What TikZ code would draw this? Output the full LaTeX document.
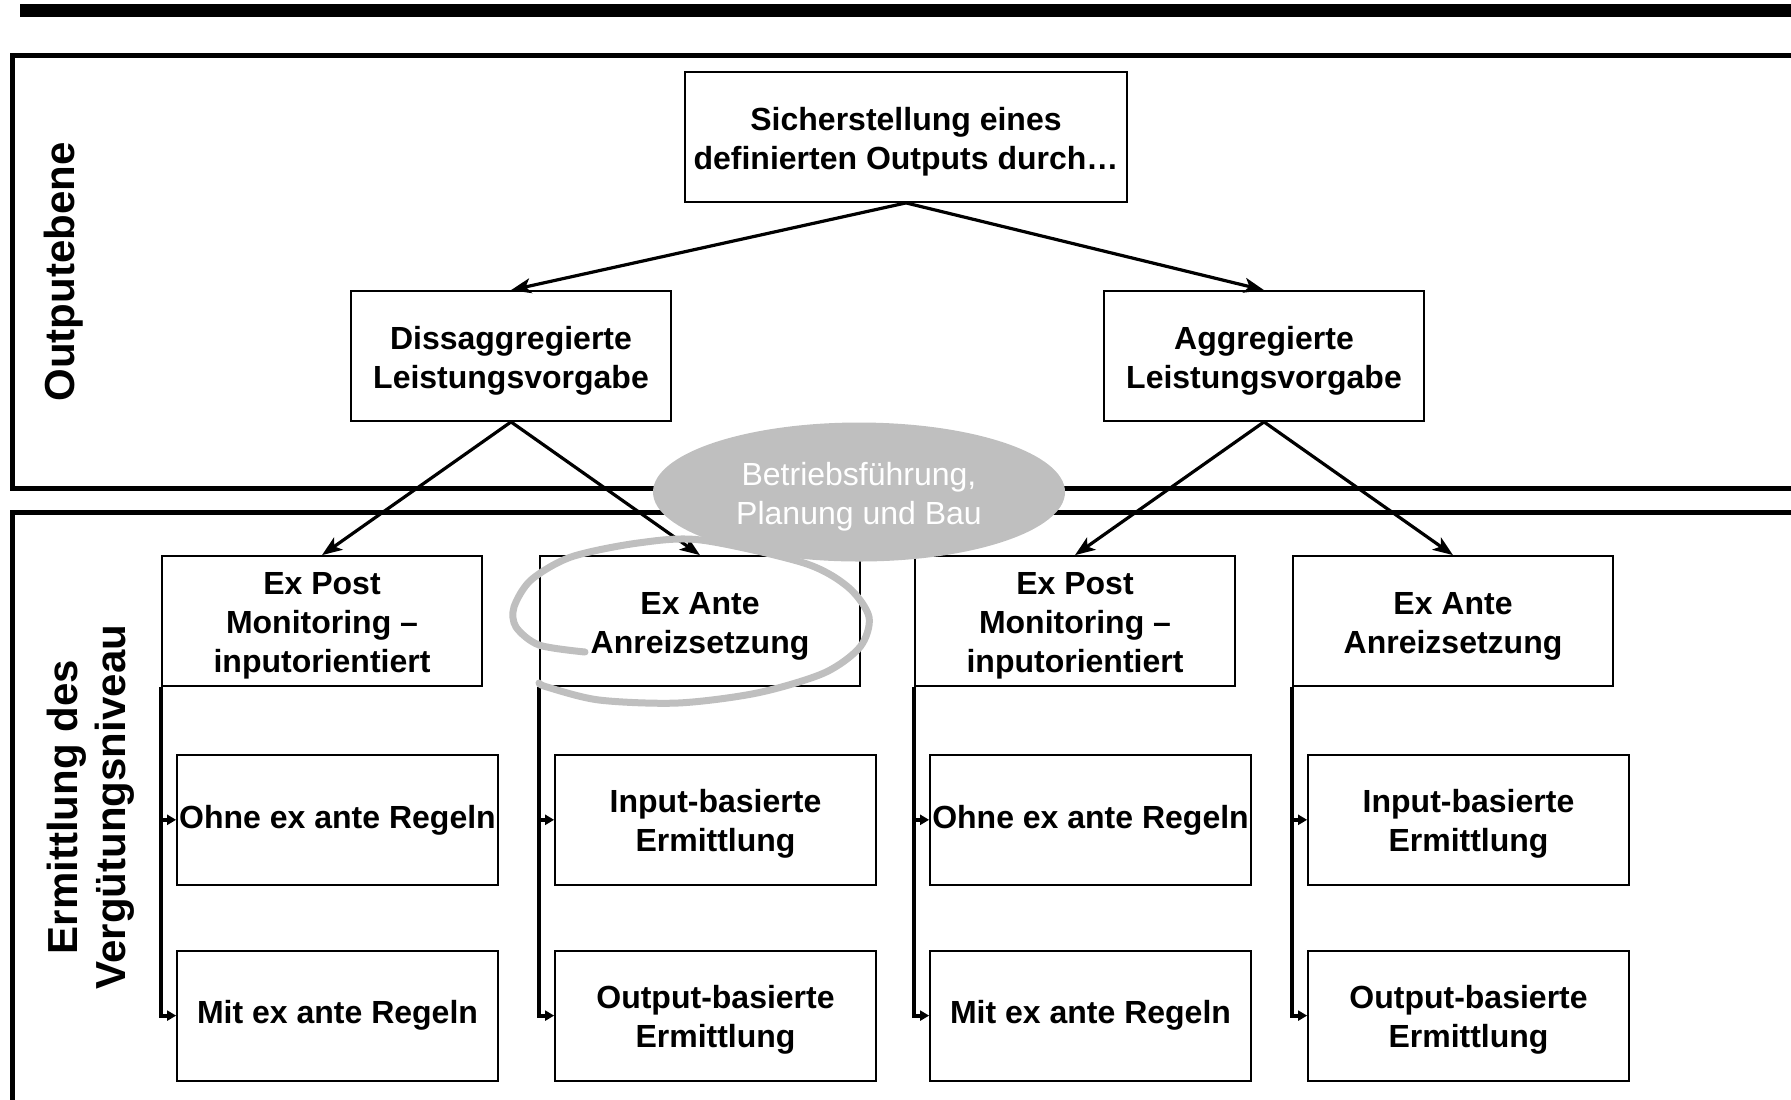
\documentclass[tikz,border=0pt]{standalone}
\usepackage{fontspec}
\setmainfont{Liberation Sans}
\usetikzlibrary{positioning,arrows.meta,shapes.geometric}
\newcommand{\hoch}{\rule{0pt}{16pt}}
\tikzset{
  kasten/.style = {shape=rectangle, draw, line width=0.9pt, align=center,
                   inner sep=1pt, minimum height=65pt,
                   font=\bfseries\fontsize{16}{19.5}\selectfont},
  spitze/.style = {kasten, minimum width=221pt},
  ebene/.style  = {kasten, minimum width=160pt},
  art/.style    = {kasten, minimum width=160pt},
  wahl/.style   = {kasten, minimum width=160.5pt},
  rahmen/.style = {line width=2.5pt},
  stiel/.style  = {line width=2.1pt, -{Triangle[length=4.5pt,width=5pt]}},
  seite/.style  = {rotate=90, align=center,
                   font=\bfseries\fontsize{21}{24}\selectfont},
  wolke/.style  = {shape=ellipse, fill=gray!50, text=white, align=center,
                   minimum width=206pt, minimum height=69.5pt, inner sep=0pt,
                   font=\fontsize{16}{19.5}\selectfont},
  kringel/.style = {draw=gray!50, line width=3.5pt, line cap=round}
}

\begin{document}
\begin{tikzpicture}
  [
  x=0.5pt, y=-0.5pt,
  grow = down,
  parent anchor = south, child anchor = north,
  edge from parent/.style = {draw, line width=1.6pt, -{Stealth[length=10pt,width=7.5pt,inset=2.5pt]}},
  level 1/.style = {sibling distance=376.5pt, level distance=109.5pt,
                    edge from parent path={(sich.south) -- (\tikzchildnode.north)}},
  level 2/.style = {sibling distance=189pt, level distance=132.5pt,
                    edge from parent path={(\tikzparentnode.south) -- (\tikzchildnode.north)}}
  ]
  \useasboundingbox (0,0) rectangle (1791,1099);

  % frames
  \fill (20,4) rectangle (1810,17);
  \draw[rahmen] (1810,55.5) -- (12.5,55.5) -- (12.5,488) -- (1810,488);
  \draw[rahmen] (1810,512.5) -- (12.5,512.5) -- (12.5,1120);

  \node[seite] (outp) at (64,272) {Outputebene};
  \node[seite] (verg) at (91,807) {Ermittlung des\\Vergütungsniveau};

  \node[spitze] (sich) at (906,137) {\hoch Sicherstellung eines\\definierten Outputs durch…};

\path (887.5,137) coordinate (mitte)
	child{node [ebene] (dis) {\hoch Dissaggregierte\\Leistungsvorgabe}
		child{node [art] (postA) {\hoch Ex Post\\Monitoring –\\inputorientiert} }
		child{node [art] (anteA) {\hoch Ex Ante\\Anreizsetzung} } }
	child{node [ebene] (agg) {\hoch Aggregierte\\Leistungsvorgabe}
		child{node [art] (postB) {\hoch Ex Post\\Monitoring –\\inputorientiert} }
		child{node [art] (anteB) {\hoch Ex Ante\\Anreizsetzung} } };

  % options below each box
  \node[wahl, anchor=north west, below right=33.5pt and 7.5pt of postA.south west] (ohneA) {Ohne ex ante Regeln};
  \node[wahl, below=32pt of ohneA] (mitA) {Mit ex ante Regeln};
  \node[wahl, anchor=north west, below right=33.5pt and 7.5pt of anteA.south west] (inA) {\hoch Input-basierte\\Ermittlung};
  \node[wahl, below=32pt of inA] (outA) {\hoch Output-basierte\\Ermittlung};
  \node[wahl, anchor=north west, below right=33.5pt and 7.5pt of postB.south west] (ohneB) {Ohne ex ante Regeln};
  \node[wahl, below=32pt of ohneB] (mitB) {Mit ex ante Regeln};
  \node[wahl, anchor=north west, below right=33.5pt and 7.5pt of anteB.south west] (inB) {\hoch Input-basierte\\Ermittlung};
  \node[wahl, below=32pt of inB] (outB) {\hoch Output-basierte\\Ermittlung};

  \draw[stiel] (postA.south west) |- (ohneA.west);
  \draw[stiel] (postA.south west) |- (mitA.west);
  \draw[stiel] (anteA.south west) |- (inA.west);
  \draw[stiel] (anteA.south west) |- (outA.west);
  \draw[stiel] (postB.south west) |- (ohneB.west);
  \draw[stiel] (postB.south west) |- (mitB.west);
  \draw[stiel] (anteB.south west) |- (inB.west);
  \draw[stiel] (anteB.south west) |- (outB.west);

  % hand drawn ring and the bubble on top
  \draw[kringel] plot[smooth] coordinates {(585,652) (539,645) (516,627) (514,607)
    (531,580) (571,557) (638,543) (701,540) (804,563) (848,587) (869,617)
    (860,647) (824,673) (757,693) (678,703) (599,700) (547,687) (539,683)};
  \node[wolke] (bet) at (859,492) {\hoch Betriebsführung,\\Planung und Bau};
\end{tikzpicture}
\end{document}
